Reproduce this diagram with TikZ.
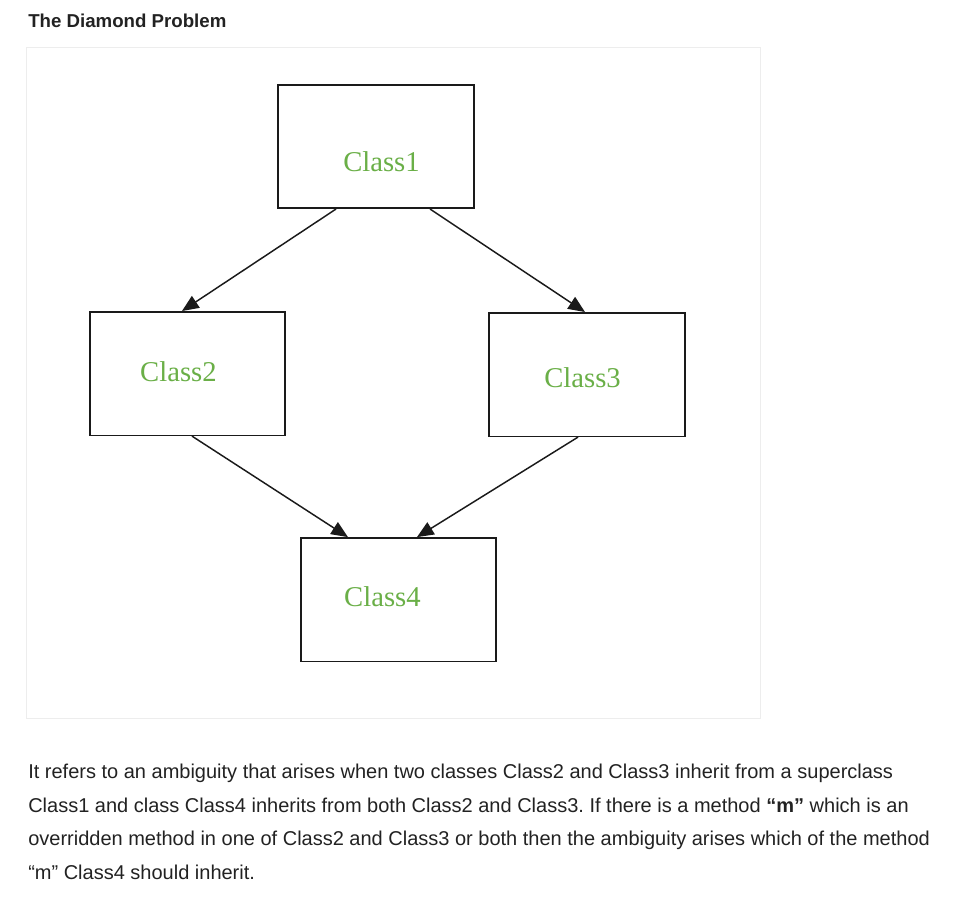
\documentclass[tikz,border=0pt]{standalone}
\usepackage{fontspec}
\setmainfont{Liberation Serif}
\setsansfont{Liberation Sans}
\usetikzlibrary{arrows.meta,positioning}
\definecolor{cInk}{HTML}{222222}
\definecolor{cName}{HTML}{6AAF47}
\definecolor{cEdge}{HTML}{1A1A1A}
\definecolor{cShade}{HTML}{EDEDED}
\frenchspacing
\tikzset{
  cls/.style={draw=cEdge, line width=1.2pt, fill=white, minimum width=146.6pt, minimum height=92.6pt, inner sep=0pt},
  clsname/.style={text=cName, font=\rmfamily\fontsize{21.5}{24}\selectfont, inner sep=0pt},
  inh/.style={-{Triangle[length=12.5pt,width=10.5pt]}, line width=1.1pt, draw=cEdge},
  para/.style={font=\sffamily\fontsize{15}{18}\selectfont, text=cInk, anchor=base west, inner sep=0pt},
}

\begin{document}
\begin{tikzpicture}[x=0.75pt, y=-0.75pt]
\useasboundingbox (0,0) rectangle (962,903);
% card
\fill[cShade] (26,47) rectangle (761,719);
\fill[white] (27,48) rectangle (760,718);
\node[para, font=\sffamily\bfseries\fontsize{14}{16}\selectfont] (title) at (28,27) {The Diamond Problem};
% classes
\node[cls] (c1) at (376,146.5) {};
\node[cls, below=76.5pt of c1, xshift=-141.4pt] (c2) {};
\node[cls, below=77.25pt of c1, xshift=158.25pt] (c3) {};
\node[cls, below=75.75pt of c2, xshift=158.25pt] (c4) {};
\node[clsname] (n1) at ([shift={(5.5,15.5)}]c1.center) {Class1};
\node[clsname] (n2) at ([shift={(-9,-1.5)}]c2.center) {Class2};
\node[clsname] (n3) at ([shift={(-4.5,3.5)}]c3.center) {Class3};
\node[clsname] (n4) at ([shift={(-16,-2.5)}]c4.center) {Class4};
\draw[inh] ([shift={(-40,0)}]c1.south) -- ([shift={(-5.5,0)}]c2.north);
\draw[inh] ([shift={(54,0)}]c1.south) -- ([shift={(-2,0)}]c3.north);
\draw[inh] ([shift={(4.5,0)}]c2.south) -- ([shift={(-50.5,0)}]c4.north);
\draw[inh] ([shift={(-9,0)}]c3.south) -- ([shift={(18.5,0)}]c4.north);
% text below
\node[para] (p1) at (28,778) {It refers to an ambiguity that arises when two classes Class2 and Class3 inherit from a superclass};
\node[para] (p2) at (28,812) {Class1 and class Class4 inherits from both Class2 and Class3. If there is a method \textbf{“m”} which is an};
\node[para] (p3) at (28,845.5) {overridden method in one of Class2 and Class3 or both then the ambiguity arises which of the method};
\node[para] (p4) at (28,879) {“m” Class4 should inherit.};
\end{tikzpicture}
\end{document}
